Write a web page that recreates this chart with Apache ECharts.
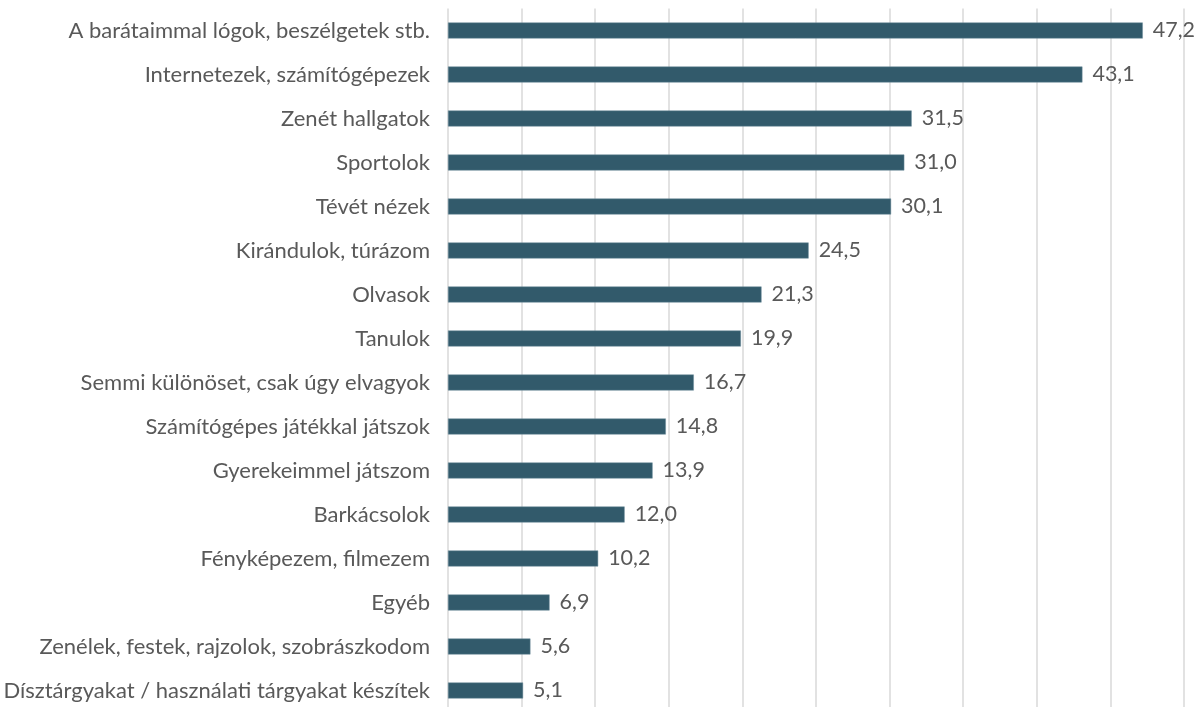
<!DOCTYPE html>
<html><head><meta charset="utf-8">
<script src="https://cdn.jsdelivr.net/npm/echarts@6/dist/echarts.min.js"></script>
<style>html,body{margin:0;padding:0;background:#fff;overflow:hidden}#c{width:1202px;height:724px}</style>
</head><body><div id="c"></div>
<script>
const categories = [
  "A barátaimmal lógok, beszélgetek stb.",
  "Internetezek, számítógépezek",
  "Zenét hallgatok",
  "Sportolok",
  "Tévét nézek",
  "Kirándulok, túrázom",
  "Olvasok",
  "Tanulok",
  "Semmi különöset, csak úgy elvagyok",
  "Számítógépes játékkal játszok",
  "Gyerekeimmel játszom",
  "Barkácsolok",
  "Fényképezem, filmezem",
  "Egyéb",
  "Zenélek, festek, rajzolok, szobrászkodom",
  "Dísztárgyakat / használati tárgyakat készítek"
];
const values = [47.2, 43.1, 31.5, 31.0, 30.1, 24.5, 21.3, 19.9, 16.7, 14.8, 13.9, 12.0, 10.2, 6.9, 5.6, 5.1];

const chart = echarts.init(document.getElementById('c'));
chart.setOption({
  animation: false,
  grid: { left: 448, right: 18, top: 8.5, height: 704, containLabel: false },
  xAxis: {
    type: 'value', min: 0, max: 50, interval: 5,
    axisLabel: { show: false }, axisLine: { show: false }, axisTick: { show: false },
    splitLine: { show: true, lineStyle: { color: '#d9d9d9', width: 1.5 } }
  },
  yAxis: {
    type: 'category', data: categories, inverse: true,
    axisLine: { show: false }, axisTick: { show: false },
    axisLabel: { color: '#595959', fontFamily: 'Lato', fontSize: 22, margin: 18 }
  },
  series: [{
    type: 'bar', data: values, barWidth: 16,
    itemStyle: { color: '#325a6b', borderColor: '#6f8f9c', borderWidth: 0.5 },
    label: {
      show: true, position: 'right', distance: 10,
      color: '#595959', fontFamily: 'Lato', fontSize: 21.5,
      formatter: p => p.value.toFixed(1).replace('.', ',')
    }
  }]
});
</script></body></html>
